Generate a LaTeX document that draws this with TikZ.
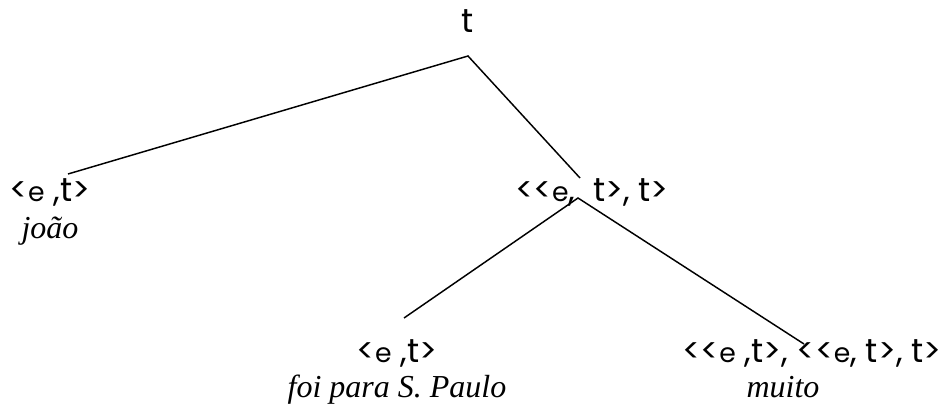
\documentclass[tikz,border=0pt]{standalone}
\usepackage{fontspec}
\setmainfont{Liberation Serif}
\newfontfamily\typefont{Poppins}
\usetikzlibrary{positioning}

% the small e inside the type labels
\newcommand{\smalle}{{\fontsize{20}{24}\selectfont e}}

\begin{document}
\begin{tikzpicture}[x=0.75pt, y=-0.75pt,
    typ/.style={font=\typefont\fontsize{25}{30}\selectfont, inner sep=0pt, anchor=base},
    word/.style={font=\itshape\fontsize{24}{29}\selectfont, inner sep=0pt, anchor=base},
    branch/.style={line width=1.1pt}]
    \useasboundingbox (0,0) rectangle (949,410);
    % type labels
    \node[typ] (root) at (468,33) {t};
    \node[typ] (subj) at (50,201) {<\smalle\ ,t>};
    \node[typ] (pred) at (592,201) {<<\smalle,\ \ t>, t>};
    \node[typ] (verb) at (397,362) {<\smalle\ ,t>};
    \node[typ] (adv) at (812,362) {<<\smalle\ ,t>, <<\smalle, t>, t>};
    % words
    \node[word] (joao) at (50,238) {joão};
    \node[word] (foi) at (397,397) {foi para S. Paulo};
    \node[word] (muito) at (783,397) {muito};
    % branch ends
    \coordinate (root-foot) at (468,56);
    \coordinate (subj-top) at (68,174);
    \coordinate (pred-top) at (580,178);
    \coordinate (pred-foot) at (578,198);
    \coordinate (verb-top) at (404,318);
    \coordinate (adv-top) at (804,344);
    \draw[branch] (subj-top) -- (root-foot) -- (pred-top);
    \draw[branch] (verb-top) -- (pred-foot) -- (adv-top);
\end{tikzpicture}
\end{document}
